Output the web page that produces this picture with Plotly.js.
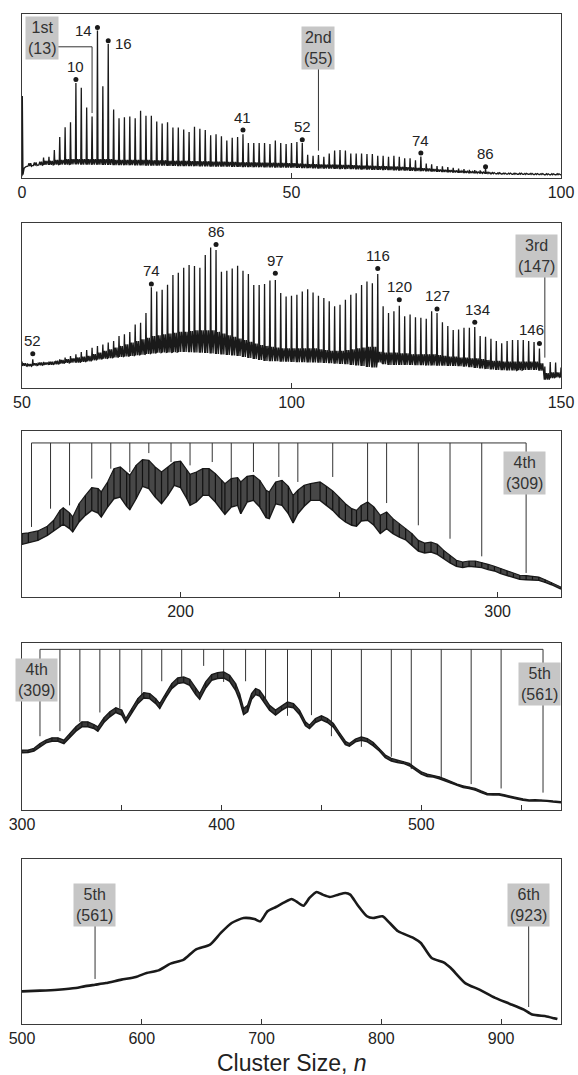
<!DOCTYPE html>
<html><head><meta charset="utf-8">
<script src="https://cdn.plot.ly/plotly-3.0.1.min.js"></script>
<style>html,body{margin:0;padding:0;background:#fff}#c{width:578px;height:1075px}</style>
</head><body><div id="c"></div>
<script>
// ---------- DATA ----------
// Panel 1 : n = 1..100
const p1FirstN = 1;
const p1Peak = [7.2,7.6,7.8,12.5,13,17,25,31,34,58,
 55,43,37.5,90,56,81.7,41.7,36.5,37,37.5,
 36.5,41,38,38,34.4,33.3,34,30.8,30.8,29.6,
 28,31.3,30,29.2,26,26.7,25.4,22.9,24.6,25,
 26.7,21.3,21.3,21.3,21.3,20.8,22.9,21.3,20.8,21.3,
 21.9,21.3,14.2,13.5,14,12.9,15,16.7,17.1,16.7,
 15,15,15,14.6,14.6,13.5,13.5,12.9,13.5,12.9,
 12.1,12.1,10.8,13.1,8.75,8.3,7.3,7.1,6.7,6.25,
 5.8,5.4,5.0,4.8,4.6,5.6,3.1,2.6,2.5,2.4,
 2.4,2.3,2.3,2.3,2.2,2.2,2.1,2.1,2.1,2.1];
const p1Floor = [7.2,7.6,7.8,8.0,8.0,8.1,8.2,8.2,8.3,8.3,
 8.2,8.2,8.1,8.1,8.0,8.0,7.9,7.9,7.8,7.8,
 7.7,7.7,7.6,7.6,7.5,7.5,7.4,7.4,7.3,7.3,
 7.2,7.2,7.1,7.1,7.0,7.0,6.9,6.9,6.8,6.8,
 6.7,6.7,6.6,6.6,6.5,6.5,6.4,6.4,6.3,6.3,
 6.2,6.1,6.0,5.9,5.8,5.8,5.7,5.6,5.5,5.5,
 5.4,5.3,5.2,5.1,5.0,5.0,4.9,4.8,4.7,4.6,
 4.5,4.4,4.3,4.2,4.1,4.0,3.8,3.7,3.5,3.4,
 3.2,3.1,3.0,2.9,2.8,2.7,2.6,2.5,2.4,2.4,
 2.3,2.3,2.2,2.2,2.1,2.1,2.0,2.0,2.0,2.0];
const p1Minor = [9,9.5,10,10.5,10.5,11,11,11.5,11.5,11.5,
 11.5,11.5,11.5,11.5,11.5,11.5,11,11,11,11,
 11,11,11,10.8,10.8,10.8,10.5,10.5,10.5,10.5,
 10.3,10.3,10.2,10.2,10,10,10,9.8,9.8,9.6,
 9.6,9.5,9.5,9.4,9.4,9.3,9.2,9.2,9,9,
 8.8,8.6,8.5,8.4,8.3,8.2,8.2,8.1,8,8,
 7.8,7.7,7.6,7.5,7.4,7.3,7.2,7.1,7,6.8,
 6.6,6.4,6.2,6,5.8,5.5,5.2,5,4.8,4.6,
 4.4,4.2,4,3.8,3.6,3.5,3.3,3.2,3,3,
 2.9,2.9,2.8,2.8,2.7,2.7,2.6,2.6,2.6,2.6];
const p1StartX = [0, 0.06, 0.18, 0.4, 0.75];
const p1StartY = [1, 50, 2, 6, 7];
const p1Marked = [10,14,16,41,52,74,86];
const p1MarkH  = [60,91.7,83.7,29.2,23.3,15.2,6.9];
const p1Shell = [13, 55];
const p1ShellEnd = [39.6, 16.7];

// Panel 2 : n = 50..150
const p2FirstN = 50;
const p2Peak = [16,15,17.4,15.4,15.8,16,16.2,17.4,18.4,19.4,
 20.4,21.8,23,24.4,25.5,26.3,27.5,28.5,31.5,32.5,
 33.9,38.5,39.5,45.5,61.1,58.5,59.5,62.5,68.5,69.9,
 72.9,74.5,73.9,72.9,80.6,85.2,83.6,70.5,71.1,72.5,
 74.1,71.1,69.1,62.5,62.5,63.1,65.1,65.5,57.5,55.5,
 55.9,56.5,58.5,59.9,57.9,55.9,54.5,52.5,49.5,50.5,
 53.5,56.5,57.5,62.5,64.5,63.5,69.1,49.5,45.5,46.5,
 49.9,43.5,44.5,42.9,42.5,41.9,46.5,45.5,39.9,37.5,
 35.1,35.5,36.5,36.5,36.9,31.5,31.1,29.9,28.5,27.1,
 28.5,29.1,29.1,29.1,28.5,27.9,24,13,15.8,15.4,
 12.4];
const p2Floor = [13.4,13.2,13.6,13.8,14,14,14.4,14.8,15.2,15.4,
 15.4,15.8,16.2,16.8,17.3,17.8,18.1,18.5,18.8,19.1,
 19.4,19.8,20.2,20.6,21,21.4,21.5,21.6,21.7,21.8,
 21.8,21.7,21.6,21.4,21.2,21,20.6,20.3,20,19.7,
 19.4,18.8,18.2,17.6,17,16.4,16.3,16.2,16,15.9,
 15.8,15.7,15.6,15.5,15.5,15.4,15.2,15,14.8,14.6,
 14.4,14,13.6,13.4,12.8,12.4,15.5,14.5,14,14,
 14,14,14,13.8,13.8,13.6,13.6,13.5,13.5,13.4,
 13.4,13.2,13,12.6,12.2,11.8,11.5,11.2,11,10.8,
 10.6,10.6,10.8,11,11,11,10.5,5,6,6.5,
 6.8];
const p2Minor = [15,14.5,15,15.5,15.5,16,16.5,17,17.5,18,
 18.5,19,19.5,20.5,21.5,22.5,23.5,24.5,25.5,26.5,
 27.5,28.5,29.5,30.5,31.5,32,32.5,33,33.5,34,
 34,34.5,35,35,35,35,34,33,32,31,
 30,29,28,27,26,25.5,25,24.5,24,24,
 24,24,24,24,24,23.5,23,22.5,22.5,22.5,
 23,23.5,24,24.5,25,25,22,21.5,21.5,21.5,
 21,21,20.5,20.5,20.5,20.5,20.5,20,19.5,19,
 19,18.5,18.5,18,18,17.5,17,16.5,16.5,16,
 16,16,16,16,16,16,15,9,9.5,9.5,
 9.5];
const p2Marked = [52,74,86,97,116,120,127,134,146];
const p2MarkH  = [20.8,63.1,87,69.5,72.5,53.5,47.9,39.9,27];
const p2Shell = [147];
const p2ShellEnd = [18.4];

// Panel 3 : envelope of the oscillating signal
const p3N = [150,152,155,158,160,162,163,165,166,168,170,172,174,175,177,179,181,183,184,186,188,190,192,194,196,198,200,202,203,205,207,209,211,213,214,216,218,219,221,223,225,227,228,230,232,234,235.5,237,239,241,244,246,248,250,252,254,255.5,257,259,261,263,265,267,269,271,273,275,277,279,281,283,285,287,289,291,293,295,297,299,301,303,305,307,309,311,313,315,317,320];
const p3Hi = [38.2,38.6,39.8,42.6,46.2,52.2,53.8,50.6,48.2,56.2,61.2,65.9,65.3,63.3,69.3,77.3,78.3,74.7,73.3,79.3,82.7,82.3,78.3,75.3,78.3,81.3,81.9,76.3,73.9,75.3,77.3,77.3,74.3,70.3,68.3,71.3,71.9,69.3,72.7,73.3,70.3,64.3,63.3,69.3,70.3,66.7,61.2,64.3,67.3,68.3,69.3,66.7,63.9,60.2,56.2,53.2,52.2,55.2,57.2,54.2,49.2,51.2,47.2,44.2,41.2,38.2,34.1,32.5,33.1,31.7,28.1,25.1,22.1,21.1,21.7,21.7,20.9,19.7,18.5,17.1,15.7,14.1,13.1,12.9,12.4,12.0,10.4,8.8,6.0];
const p3Lo = [31.7,32.5,34.1,37.1,39.8,42.6,43.8,41.2,39.2,45.2,49.2,52.2,50.6,48.2,54.2,59.2,60.2,54.6,52.6,59.2,66.7,65.3,60.2,56.2,61.2,67.3,65.9,59.2,55.2,57.2,61.2,61.2,57.2,52.2,49.8,54.2,55.2,50.2,57.2,58.2,54.2,47.8,47.2,56.2,55.2,50.2,44.6,50.2,54.6,58.2,58.2,55.2,52.2,48.2,45.2,43.2,42.6,45.8,46.2,43.2,38.2,41.2,38.2,36.1,34.5,31.1,27.7,26.5,27.1,25.7,23.1,20.5,18.5,17.7,18.5,18.1,17.7,16.5,15.7,14.1,12.9,11.6,10.6,10.4,10.4,10.0,8.8,7.4,4.8];
const p3Magic = [153,159,165,172,178,184,190,197,203,210,216,223,231,237,248,259,265,275,285,295,309];
const p3MagicEnd = [42.2,53.2,55.2,71.3,77.3,75.3,86.7,81.3,79.3,81.3,69.3,75.3,72.3,69.3,72.3,55.2,56.6,43.2,35.1,24.5,14.5];

// Panel 4
const p4N = [300,303,306,309,312,315,318,321,324,327,330,333,336,338,341,344,347,350,352,355,358,361,364,367,369,372,375,378,381,384,387,389,392,395,398,401,404,407,409,411,413,415,417,419,421,424,427,430,433,436,439,442,444,447,450,453,456,459,462,464,467,470,473,476,479,482,485,488,491,494,497,500,503,506,509,512,515,518,521,524,527,530,533,536,539,542,545,548,551,554,557,560,563,566,570];
const p4Hi = [35.9,35.9,36.9,39.8,41.8,43.2,43.2,41.8,45.8,49.8,52.8,52.8,51.2,49.8,55.2,58.8,61.2,59.8,54.8,60.8,66.7,70.3,69.7,66.7,63.7,69.7,75.7,79.1,79.7,78.3,72.7,69.7,76.7,81.1,82.3,82.7,80.7,75.7,69.7,60.8,62.7,69.7,72.7,71.7,68.3,62.7,59.8,62.3,64.7,63.7,59.8,52.8,50.8,54.8,56.4,54.8,51.8,46.4,41.2,39.8,42.4,43.8,42.8,40.4,36.9,32.9,30.9,29.9,29.3,27.9,25.3,22.9,21.5,20.9,19.9,18.5,16.9,15.5,14.5,13.9,12.9,11.4,10.0,9.8,9.8,9.0,8.0,7.4,6.6,6.0,6.2,6.2,5.8,5.4,5.0];
const p4Lo = [34.3,34.5,35.3,37.8,40.2,41.2,41.2,39.8,43.8,47.2,49.8,49.8,48.8,47.2,52.4,55.8,58.4,56.8,52.4,58.4,63.7,67.1,66.7,63.7,60.8,67.1,72.7,75.7,76.3,74.7,69.1,66.3,73.1,77.7,78.7,79.1,77.1,71.7,65.7,57.2,58.8,66.3,69.1,68.3,65.1,59.8,56.8,59.6,61.8,61.2,57.2,50.4,48.8,52.4,54.0,52.4,49.6,44.4,39.2,38.2,40.8,41.8,40.8,38.4,35.3,31.3,29.3,28.5,27.9,26.5,23.9,21.5,20.1,19.7,18.7,17.3,15.9,14.5,13.5,12.9,11.9,10.4,9.2,9.0,9.0,8.2,7.2,6.6,5.8,5.4,5.6,5.6,5.2,4.8,4.4];
const p4Magic = [309,319,329,339,349,360,370,380,391,401,412,422,433,445,455,470,485,495,510,525,540,561];
const p4MagicEnd = [44.2,47.2,52.8,58.4,60.8,68.7,77.1,79.7,86.3,76.7,77.1,66.3,56.4,56.8,44.2,37.8,31.9,24.5,18.9,15.5,12.9,10.4];

// Panel 5
const p5N = [500,515,530,545,552,561,570,583,595,604,614,624,635,645,657,666,675,685,694,699,705,712,719,725,729,735,740,746,751,757,764,770,774,780,788,793,801,807,814,827,833,842,852,858,870,882,895,907,919,926,938,947];
const p5H = [19.8,20.2,20.8,21.8,22.8,23.8,24.8,26.9,28.5,30.9,32.5,36.6,39.0,45.1,48.1,55.2,61.2,64.2,63.6,62.2,68.3,70.9,73.7,75.8,74.3,71.7,76.4,80.0,78.4,77.0,78.4,79.4,78.4,72.3,65.3,64.2,65.3,61.2,56.2,52.1,49.1,40.0,37.4,33.9,24.8,20.8,15.8,12.3,8.7,5.7,4.6,3.0];
const p5Shell = [561, 923];
const p5ShellEnd = [27.3, 10.3];

// Axis ranges & ticks
const ranges = [[0,100],[50,150],[150,320],[300,570],[500,950]];
const tickVals = [[0,50,100],[50,100,150],[200,250,300],[300,350,400,450,500,550],[500,600,700,800,900]];
const tickText = [['0','50','100'],['50','100','150'],['200','','300'],['300','','400','','500',''],['500','600','700','800','900']];

// ---------- DRAWING ----------
const FONT = 'Liberation Sans, Arial, Helvetica, sans-serif';
const INK = '#1a1a1a';
const W = 578, H = 1075;
const boxes = [[14,178],[223,388],[431,597],[643,810],[859,1024]];
const xDom = [22/W, 561/W];

function spikes(firstN, peak, floor, minor) {
  const x = [], y = [];
  for (let i = 0; i < peak.length; i++) {
    const n = firstN + i;
    x.push(n-0.1, n, n+0.1, n+0.3, n+0.45, n+0.62, n+0.78);
    y.push(floor[i], peak[i], floor[i], minor[i], floor[i], minor[i], floor[i]);
  }
  return {x, y};
}
function stripes(xs, lo, hi) {
  const x = [], y = [];
  xs.forEach((v, i) => { x.push(v, v, null); y.push(lo[i], hi[i], null); });
  return {x, y};
}
function bracket(magic, ends, top) {
  const x = [magic[0], magic[magic.length-1], null], y = [top, top, null];
  magic.forEach((m, i) => { x.push(m, m, null); y.push(top, ends[i], null); });
  return {x, y};
}
function leaders(ns, ends, from) {
  const x = [], y = [];
  ns.forEach((m, i) => { x.push(m, m, null); y.push(from, ends[i], null); });
  return {x, y};
}

const traces = [];
// panel 1
const s1 = spikes(p1FirstN, p1Peak, p1Floor, p1Minor);
traces.push({x: p1StartX.concat(s1.x), y: p1StartY.concat(s1.y), xaxis:'x', yaxis:'y', mode:'lines', line:{color:INK, width:1.3}});
traces.push({x: p1Marked, y: p1MarkH, xaxis:'x', yaxis:'y', mode:'markers', marker:{color:INK, size:5}});
traces.push({x:[5, p1Shell[0], p1Shell[0]], y:[80, 80, p1ShellEnd[0]], xaxis:'x', yaxis:'y', mode:'lines', line:{color:'#333', width:1}});
traces.push({x:[p1Shell[1], p1Shell[1]], y:[79, p1ShellEnd[1]], xaxis:'x', yaxis:'y', mode:'lines', line:{color:'#333', width:1}});
// panel 2
const s2 = spikes(p2FirstN, p2Peak, p2Floor, p2Minor);
traces.push({x: s2.x, y: s2.y, xaxis:'x2', yaxis:'y2', mode:'lines', line:{color:INK, width:1.3}});
traces.push({x: p2Marked, y: p2MarkH, xaxis:'x2', yaxis:'y2', mode:'markers', marker:{color:INK, size:5}});
const l2 = leaders(p2Shell, p2ShellEnd, 80);
traces.push({x:l2.x, y:l2.y, xaxis:'x2', yaxis:'y2', mode:'lines', line:{color:'#333', width:1}});
// panel 3
const b3 = bracket(p3Magic, p3MagicEnd, 92.8);
traces.push({x:b3.x, y:b3.y, xaxis:'x3', yaxis:'y3', mode:'lines', line:{color:'#333', width:1}});
traces.push({x:p3N, y:p3Lo, xaxis:'x3', yaxis:'y3', mode:'lines', line:{color:INK, width:1.4}});
traces.push({x:p3N, y:p3Hi, xaxis:'x3', yaxis:'y3', mode:'lines', fill:'tonexty', fillcolor:'rgba(55,55,55,0.92)', line:{color:INK, width:1.2}});
const st3 = stripes(p3N, p3Lo, p3Hi);
traces.push({x:st3.x, y:st3.y, xaxis:'x3', yaxis:'y3', mode:'lines', line:{color:'#111', width:1.2}});
// panel 4
const b4 = bracket(p4Magic, p4MagicEnd, 96.2);
traces.push({x:b4.x, y:b4.y, xaxis:'x4', yaxis:'y4', mode:'lines', line:{color:'#333', width:1}});
traces.push({x:p4N, y:p4Lo, xaxis:'x4', yaxis:'y4', mode:'lines', line:{color:INK, width:1.5}});
traces.push({x:p4N, y:p4Hi, xaxis:'x4', yaxis:'y4', mode:'lines', fill:'tonexty', fillcolor:'rgba(40,40,40,0.92)', line:{color:INK, width:1.3}});
const st4 = stripes(p4N, p4Lo, p4Hi);
traces.push({x:st4.x, y:st4.y, xaxis:'x4', yaxis:'y4', mode:'lines', line:{color:INK, width:1.2}});
// panel 5
const l5 = leaders(p5Shell, p5ShellEnd, 72);
traces.push({x:l5.x, y:l5.y, xaxis:'x5', yaxis:'y5', mode:'lines', line:{color:'#333', width:1}});
traces.push({x:p5N, y:p5H, xaxis:'x5', yaxis:'y5', mode:'lines', line:{color:INK, width:2.6, shape:'spline', smoothing:0.6}});

const layout = {
  width: W, height: H, margin:{l:0,r:0,t:0,b:0},
  paper_bgcolor:'#fff', plot_bgcolor:'#fff', showlegend:false,
  font:{family:FONT, size:16, color:'#222'},
  annotations: []
};
for (let k = 0; k < 5; k++) {
  const sx = k === 0 ? '' : String(k+1);
  const [t, b] = boxes[k];
  layout['xaxis'+sx] = {
    domain: xDom, range: ranges[k], anchor: 'y'+sx,
    tickmode:'array', tickvals: tickVals[k], ticktext: tickText[k],
    ticks:'inside', ticklen:5, tickwidth:1, tickcolor:'#333',
    showline:true, mirror:true, linecolor:'#3a3a3a', linewidth:1,
    showgrid:false, zeroline:false,
    tickfont:{family:FONT, size:16, color:'#222'}
  };
  layout['yaxis'+sx] = {
    domain: [1 - b/H, 1 - t/H], range:[0,100], anchor:'x'+sx,
    showticklabels:false, ticks:'', showline:true, mirror:true,
    linecolor:'#3a3a3a', linewidth:1, showgrid:false, zeroline:false
  };
}
// number labels over dots
function addNums(marked, hs, sx, shifts) {
  marked.forEach((n, i) => {
    const sh = shifts[n] || [0, 13];
    layout.annotations.push({xref:'x'+sx, yref:'y'+sx, x:n, y:hs[i], text:String(n),
      showarrow:false, xshift:sh[0], yshift:sh[1], font:{family:FONT, size:15, color:'#222'}});
  });
}
addNums(p1Marked, p1MarkH, '', {14:[-14,-3], 16:[15,-3]});
addNums(p2Marked, p2MarkH, '2', {146:[-8,14], 134:[3,13]});
// shell label boxes
function shellBox(sx, x, y, text) {
  layout.annotations.push({xref:'x'+sx, yref:'y'+sx, x:x, y:y, text:text, showarrow:false,
    bgcolor:'#c6c6c6', borderpad:2, font:{family:FONT, size:16, color:'#333'}});
}
shellBox('', 3.75, 85.5, '1st<br>(13)');
shellBox('', 54.9, 79.5, '2nd<br>(55)');
shellBox('2', 145.4, 80.3, '3rd<br>(147)');
shellBox('3', 308.5, 75, '4th<br>(309)');
shellBox('4', 307.2, 77.7, '4th<br>(309)');
shellBox('4', 559, 75.7, '5th<br>(561)');
shellBox('5', 560.2, 72.1, '5th<br>(561)');
shellBox('5', 923, 72.1, '6th<br>(923)');
// axis title
layout.annotations.push({xref:'paper', yref:'paper', x:(xDom[0]+xDom[1])/2, y:1-1063/H, yanchor:'middle',
  text:'Cluster Size, <i>n</i>', showarrow:false, font:{family:FONT, size:23, color:'#222'}});

Plotly.newPlot('c', traces, layout, {staticPlot:true, displayModeBar:false});
</script></body></html>
